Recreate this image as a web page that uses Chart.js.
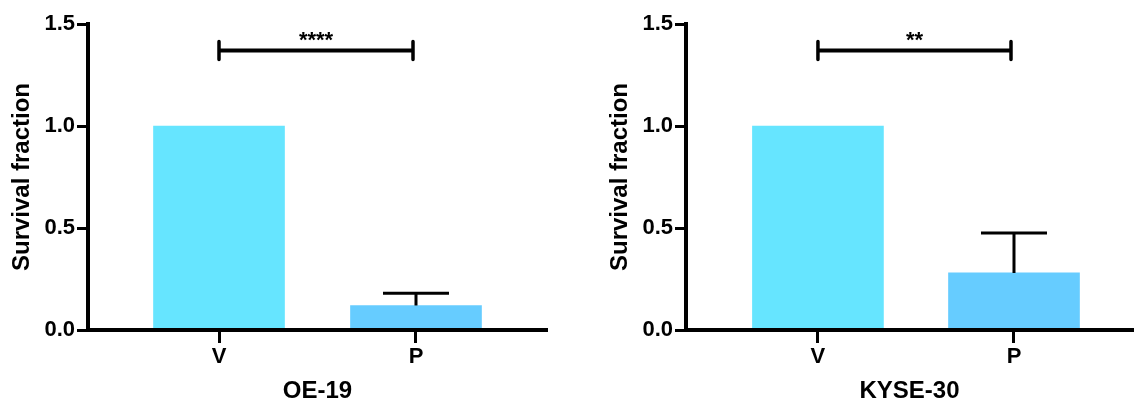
<!DOCTYPE html>
<html>
<head>
<meta charset="utf-8">
<script src="https://cdn.jsdelivr.net/npm/chart.js@4"></script>
<style>
  body { margin: 0; background: #fff; }
  canvas { position: absolute; top: 0; }
  #oe19 { left: 0; }
  #kyse30 { left: 598px; }
</style>
</head>
<body>
<canvas id="oe19" width="567" height="403"></canvas>
<canvas id="kyse30" width="536" height="403"></canvas>
<script>
const categories = ['V', 'P'];
const oe19Values = [1.0, 0.12];
const oe19Errors = [0, 0.06];
const kyse30Values = [1.0, 0.28];
const kyse30Errors = [0, 0.195];
const panelTitles = ['OE-19', 'KYSE-30'];
const sigLabels = ['****', '**'];
const sigLevels = [1.37, 1.37];
const barColors = ['#66E5FF', '#66CCFF'];

const family = '"Liberation Sans", Arial, Helvetica, sans-serif';
Chart.defaults.font.family = family;
Chart.defaults.color = '#000';

// error bars (upper only) + significance bracket
const annotations = {
  id: 'annotations',
  afterDatasetsDraw(chart, args, opts) {
    const ctx = chart.ctx;
    const x = chart.scales.x, y = chart.scales.y;
    ctx.save();
    ctx.strokeStyle = '#000';
    ctx.lineWidth = 3;
    opts.values.forEach((v, i) => {
      const err = opts.errors[i];
      if (!err) return;
      const cx = x.getPixelForValue(i);
      const half = 33;
      const yTop = y.getPixelForValue(v + err);
      ctx.beginPath();
      ctx.moveTo(cx, y.getPixelForValue(v));
      ctx.lineTo(cx, yTop);
      ctx.moveTo(cx - half, yTop);
      ctx.lineTo(cx + half, yTop);
      ctx.stroke();
    });

    const by = y.getPixelForValue(opts.sigLevel);
    const x0 = x.getPixelForValue(0), x1 = x.getPixelForValue(1) - 3;
    ctx.lineWidth = 4;
    ctx.beginPath();
    ctx.moveTo(x0, by);
    ctx.lineTo(x1, by);
    ctx.stroke();
    ctx.lineWidth = 3.5;
    ctx.lineCap = 'round';
    ctx.beginPath();
    ctx.moveTo(x0, by - 9);
    ctx.lineTo(x0, by + 9);
    ctx.moveTo(x1, by - 9);
    ctx.lineTo(x1, by + 9);
    ctx.stroke();

    ctx.fillStyle = '#000';
    ctx.font = 'bold 22px ' + family;
    ctx.textAlign = 'center';
    ctx.textBaseline = 'alphabetic';
    ctx.fillText(opts.sigLabel, (x0 + x1) / 2, by - 4);
    ctx.restore();
  }
};

function axisStyle(tickLength) {
  return {
    grid: { display: true, offset: false, drawOnChartArea: false, drawTicks: true, tickLength: tickLength, tickWidth: 3, tickColor: '#000', z: 1 },
    border: { display: true, color: '#000', width: 4, z: 1 }
  };
}

function makeChart(id, values, errors, n, xMin, xMax, padRight) {
  return new Chart(document.getElementById(id), {
    type: 'bar',
    data: {
      datasets: [{
        data: values.map((v, i) => ({ x: i, y: v })),
        backgroundColor: barColors,
        borderWidth: 0,
        barThickness: 131
      }]
    },
    options: {
      responsive: false,
      animation: false,
      devicePixelRatio: 1,
      layout: { padding: { top: 24, right: padRight, left: 0, bottom: 0 } },
      plugins: {
        legend: { display: false },
        tooltip: { enabled: false },
        annotations: { values: values, errors: errors, sigLevel: sigLevels[n], sigLabel: sigLabels[n] }
      },
      scales: {
        x: {
          type: 'linear',
          min: xMin,
          max: xMax,
          offset: false,
          afterFit: s => { s.height = 73; },
          ...axisStyle(13),
          ticks: {
            stepSize: 1,
            includeBounds: false,
            color: '#000',
            padding: 1,
            font: { size: 22, weight: 'bold' },
            callback: v => categories[v]
          },
          title: {
            display: true,
            text: panelTitles[n],
            color: '#000',
            padding: 0,
            font: { size: 24, weight: 'bold', lineHeight: 1 }
          }
        },
        y: {
          min: 0,
          max: 1.5,
          afterFit: s => { s.width = 88; },
          ...axisStyle(11),
          ticks: {
            stepSize: 0.5,
            color: '#000',
            padding: 2,
            font: { size: 22, weight: 'bold' },
            callback: v => v.toFixed(1)
          },
          title: {
            display: true,
            text: 'Survival fraction',
            color: '#000',
            padding: { top: 10, bottom: 0 },
            font: { size: 24, weight: 'bold', lineHeight: 1 }
          }
        }
      }
    },
    plugins: [annotations]
  });
}

makeChart('oe19', oe19Values, oe19Errors, 0, -0.665, 1.665, 20);
makeChart('kyse30', kyse30Values, kyse30Errors, 1, -0.673, 1.607, 1);
</script>
</body>
</html>
